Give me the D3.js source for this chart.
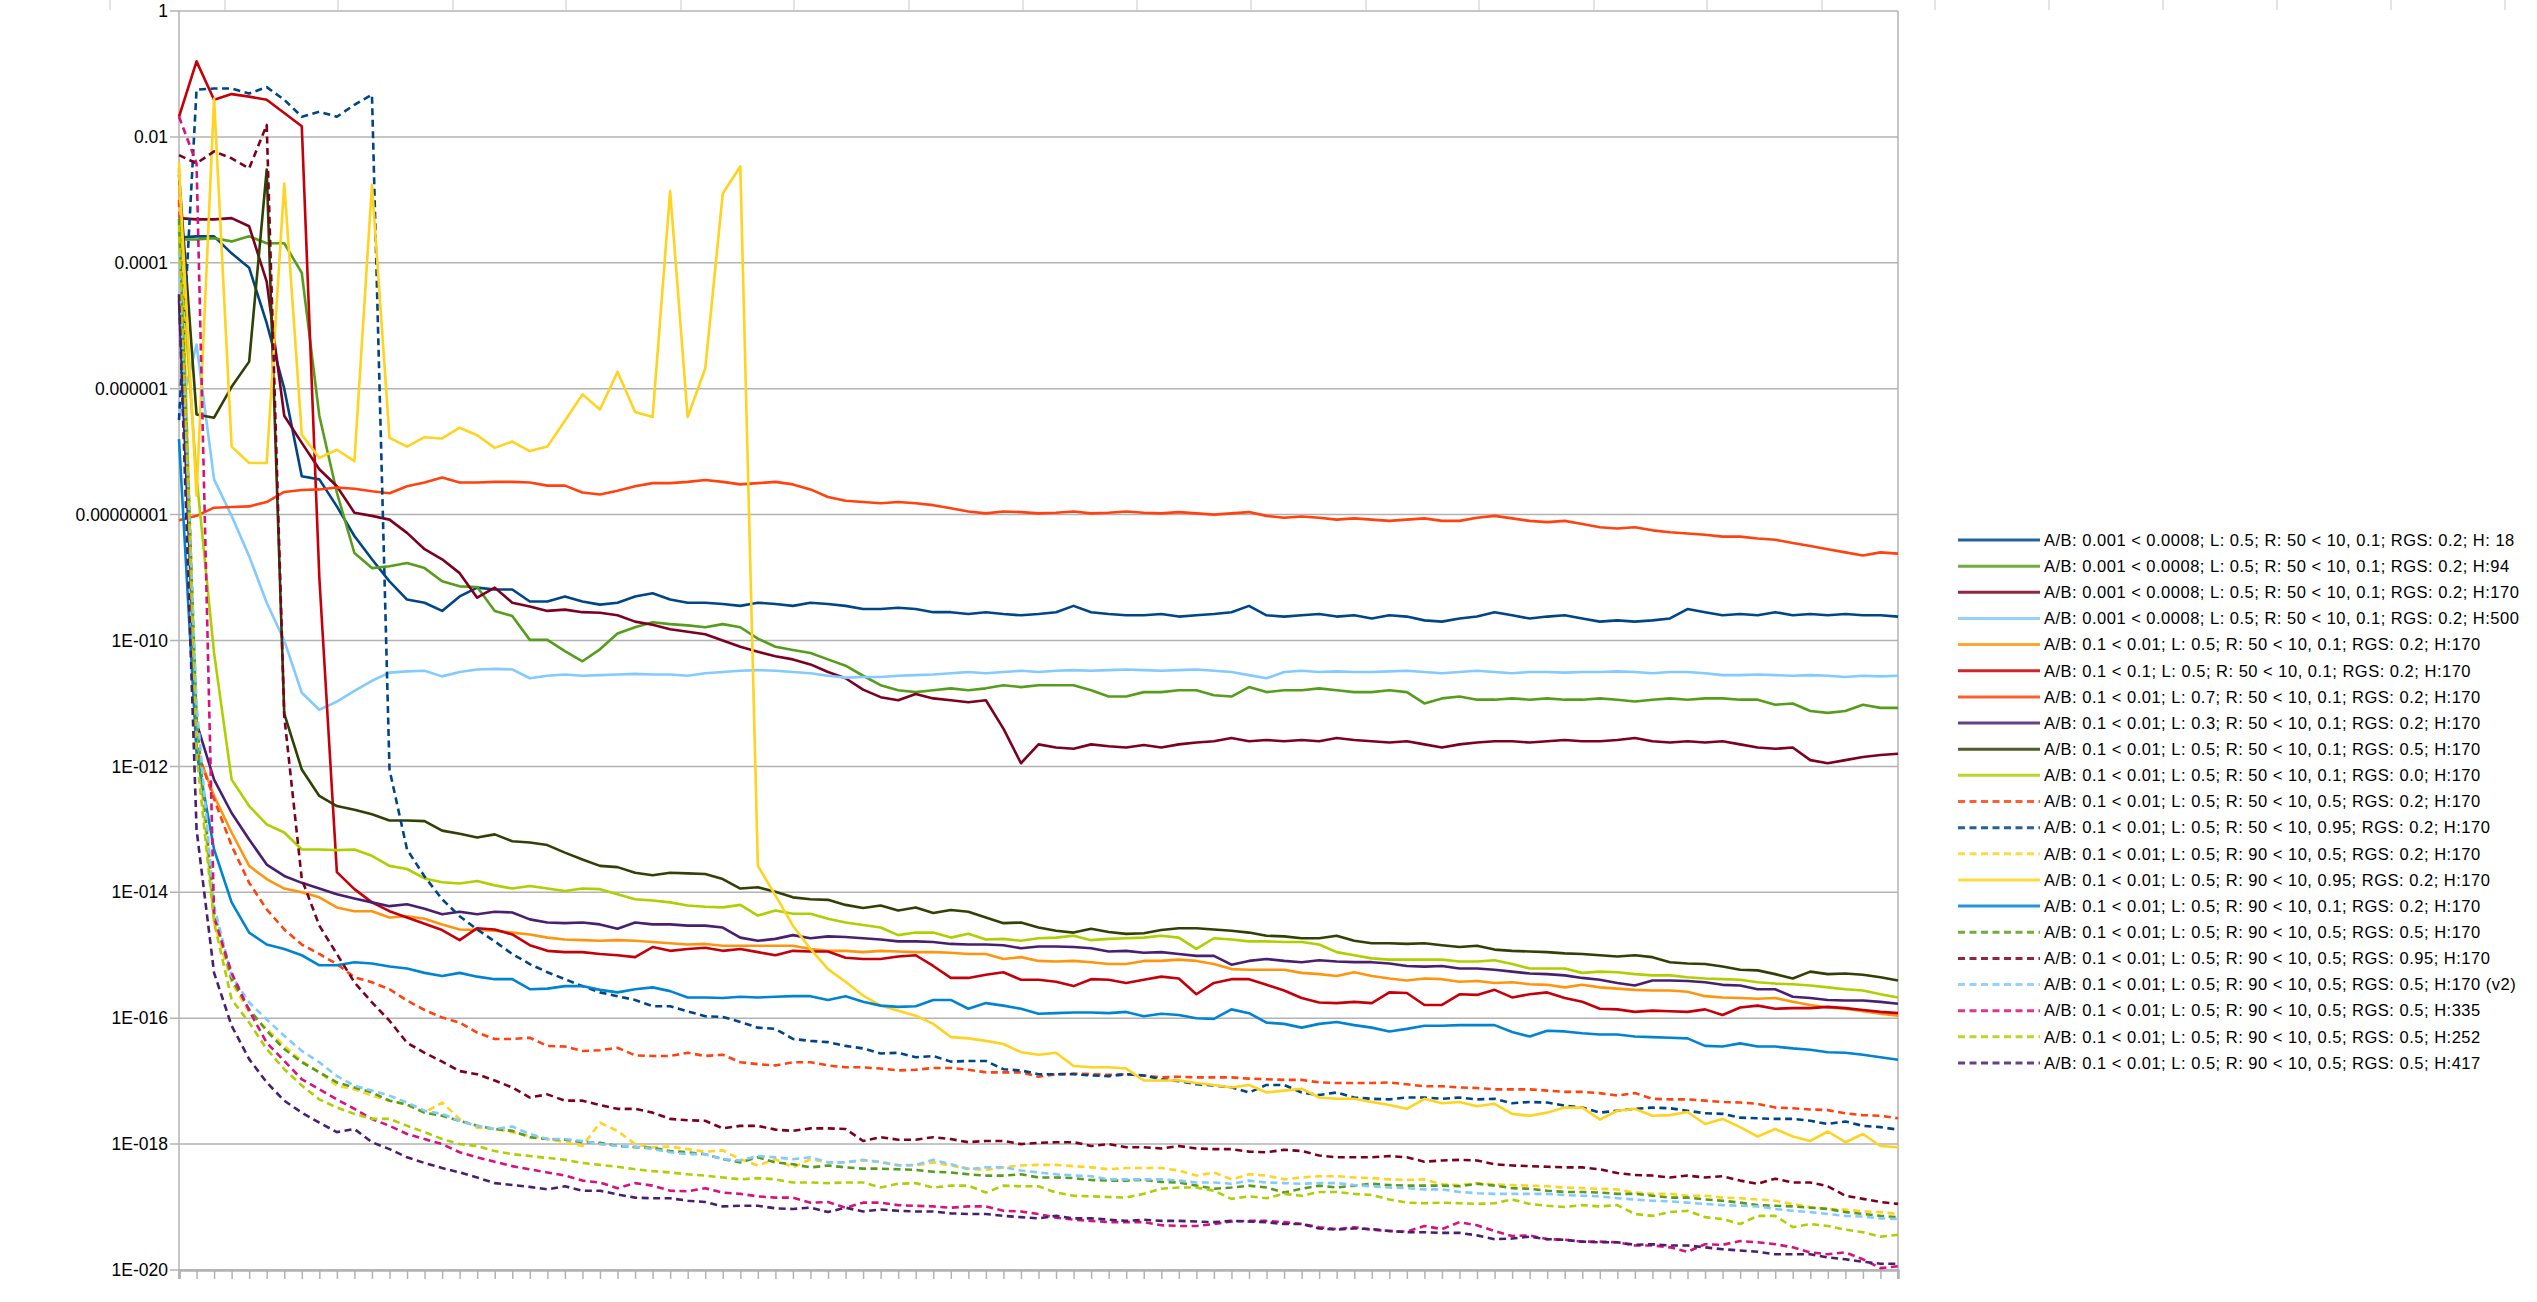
<!DOCTYPE html>
<html>
<head>
<meta charset="utf-8">
<script src="https://cdn.jsdelivr.net/npm/d3@7"></script>
<style>
  body { margin: 0; background: #fff; }
  svg { display: block; font-family: "Liberation Sans", Arial, sans-serif; }
</style>
</head>
<body>
<svg id="chart" width="2537" height="1302"></svg>
<script>
// log10 of the residual at each step (99 steps per run)
const s01 = [-3.6,-3.58,-3.58,-3.85,-4.08,-4.96,-6.0,-7.39,-7.44,-7.87,-8.34,-8.71,-9.06,-9.35,-9.4,-9.53,-9.3,-9.16,-9.19,-9.19,-9.38,-9.38,-9.3,-9.38,-9.43,
  -9.4,-9.3,-9.25,-9.35,-9.4,-9.4,-9.42,-9.45,-9.4,-9.42,-9.45,-9.4,-9.42,-9.45,-9.5,-9.5,-9.48,-9.5,-9.55,-9.55,-9.58,-9.55,-9.58,-9.6,-9.58,-9.55,-9.45,-9.55,-9.58,-9.6,-9.6,-9.58,-9.62,-9.6,-9.58,-9.55,-9.45,-9.6,-9.62,-9.6,-9.58,-9.62,-9.6,-9.65,-9.6,-9.62,-9.68,-9.7,-9.65,-9.62,-9.55,-9.6,-9.65,-9.62,-9.6,-9.65,-9.7,-9.68,-9.7,-9.68,-9.65,-9.5,-9.55,-9.6,-9.58,-9.6,-9.55,-9.6,-9.58,-9.6,-9.58,-9.6,-9.6,-9.62];
const s02 = [-3.63,-3.63,-3.61,-3.66,-3.58,-3.69,-3.69,-4.16,-6.43,-7.65,-8.61,-8.85,-8.82,-8.77,-8.85,-9.06,-9.14,-9.15,-9.53,-9.61,-9.99,-9.99,-10.17,-10.33,-10.14,
  -9.89,-9.79,-9.71,-9.74,-9.76,-9.79,-9.74,-9.79,-9.97,-10.1,-10.15,-10.2,-10.3,-10.4,-10.56,-10.71,-10.79,-10.82,-10.79,-10.76,-10.79,-10.76,-10.71,-10.74,-10.71,-10.71,-10.71,-10.79,-10.89,-10.89,-10.82,-10.82,-10.79,-10.79,-10.87,-10.89,-10.74,-10.82,-10.79,-10.79,-10.76,-10.79,-10.82,-10.82,-10.79,-10.82,-11.0,-10.92,-10.89,-10.94,-10.94,-10.92,-10.94,-10.92,-10.94,-10.94,-10.92,-10.94,-10.97,-10.94,-10.92,-10.94,-10.92,-10.92,-10.94,-10.94,-11.02,-11.0,-11.12,-11.15,-11.12,-11.02,-11.07,-11.07];
const s03 = [-3.29,-3.31,-3.31,-3.29,-3.42,-4.3,-6.43,-6.86,-7.28,-7.55,-7.97,-8.02,-8.08,-8.29,-8.55,-8.71,-8.93,-9.32,-9.16,-9.4,-9.46,-9.53,-9.51,-9.55,-9.56,
  -9.6,-9.7,-9.75,-9.82,-9.86,-9.9,-10.0,-10.1,-10.18,-10.25,-10.3,-10.38,-10.5,-10.6,-10.78,-10.9,-10.95,-10.85,-10.92,-10.95,-10.98,-10.95,-11.4,-11.95,-11.65,-11.7,-11.72,-11.65,-11.68,-11.7,-11.66,-11.7,-11.65,-11.62,-11.6,-11.55,-11.6,-11.58,-11.6,-11.58,-11.6,-11.55,-11.58,-11.6,-11.62,-11.6,-11.65,-11.7,-11.65,-11.62,-11.6,-11.6,-11.62,-11.6,-11.58,-11.6,-11.6,-11.58,-11.55,-11.6,-11.62,-11.6,-11.62,-11.6,-11.65,-11.7,-11.72,-11.7,-11.9,-11.95,-11.9,-11.85,-11.82,-11.8];
const s04 = [-6.43,-5.3,-7.44,-8.02,-8.66,-9.4,-10.0,-10.83,-11.1,-10.97,-10.8,-10.64,-10.51,-10.49,-10.48,-10.57,-10.5,-10.46,-10.45,-10.46,-10.6,-10.56,-10.54,-10.56,-10.55,-10.54,-10.53,-10.54,-10.54,-10.56,
  -10.52,-10.5,-10.48,-10.47,-10.48,-10.5,-10.52,-10.56,-10.59,-10.58,-10.58,-10.56,-10.55,-10.54,-10.52,-10.5,-10.52,-10.5,-10.48,-10.5,-10.48,-10.47,-10.48,-10.47,-10.46,-10.47,-10.48,-10.47,-10.46,-10.48,-10.5,-10.55,-10.6,-10.5,-10.48,-10.5,-10.49,-10.5,-10.5,-10.49,-10.48,-10.5,-10.52,-10.5,-10.48,-10.5,-10.52,-10.5,-10.5,-10.51,-10.5,-10.5,-10.49,-10.5,-10.52,-10.5,-10.5,-10.52,-10.55,-10.55,-10.54,-10.55,-10.56,-10.55,-10.56,-10.58,-10.56,-10.57,-10.56];
const s05 = [-2.5,-11.73,-12.47,-13.05,-13.58,-13.79,-13.94,-14.0,-14.08,-14.24,-14.3,-14.3,-14.4,-14.38,-14.42,-14.51,-14.59,-14.6,-14.61,-14.64,-14.67,-14.72,-14.75,-14.76,-14.77,-14.76,-14.77,-14.79,-14.81,-14.83,
  -14.82,-14.85,-14.85,-14.85,-14.85,-14.85,-14.9,-14.93,-14.93,-14.95,-14.93,-14.94,-14.95,-14.95,-14.96,-14.98,-14.98,-15.06,-15.03,-15.09,-15.1,-15.09,-15.11,-15.14,-15.14,-15.09,-15.09,-15.07,-15.09,-15.14,-15.22,-15.23,-15.23,-15.23,-15.28,
  -15.3,-15.33,-15.27,-15.33,-15.37,-15.4,-15.37,-15.38,-15.42,-15.41,-15.44,-15.43,-15.46,-15.47,-15.51,-15.47,-15.51,-15.53,-15.55,-15.56,-15.56,-15.58,-15.65,-15.67,-15.68,-15.69,-15.68,-15.74,-15.79,-15.83,-15.85,-15.89,-15.93,-15.96];
const s06 = [-1.68,-0.8,-1.41,-1.32,-1.36,-1.41,-1.62,-1.83,-9.0,-13.68,-13.95,-14.16,-14.3,-14.4,-14.5,-14.6,-14.76,-14.57,-14.59,-14.67,-14.84,-14.93,-14.95,-14.95,-14.98,-15.0,-15.03,-14.87,-14.93,-14.9,
  -14.88,-14.93,-14.9,-14.95,-15.0,-14.93,-14.94,-14.94,-15.04,-15.06,-15.06,-15.02,-15.0,-15.17,-15.36,-15.36,-15.31,-15.27,-15.39,-15.39,-15.42,-15.49,-15.38,-15.39,-15.44,-15.39,-15.34,-15.37,-15.62,-15.44,-15.38,-15.38,-15.47,-15.56,-15.68,
  -15.75,-15.76,-15.74,-15.76,-15.59,-15.6,-15.79,-15.79,-15.62,-15.63,-15.55,-15.67,-15.62,-15.59,-15.68,-15.74,-15.85,-15.86,-15.9,-15.88,-15.89,-15.9,-15.86,-15.95,-15.83,-15.8,-15.85,-15.84,-15.84,-15.82,-15.84,-15.87,-15.9,-15.92];
const s07 = [-8.09,-8.02,-7.89,-7.88,-7.87,-7.8,-7.64,-7.61,-7.6,-7.57,-7.59,-7.63,-7.66,-7.55,-7.49,-7.41,-7.49,-7.49,-7.48,-7.48,-7.49,-7.54,-7.54,-7.65,-7.68,
  -7.62,-7.55,-7.5,-7.5,-7.48,-7.45,-7.48,-7.52,-7.5,-7.48,-7.52,-7.6,-7.72,-7.78,-7.8,-7.82,-7.8,-7.82,-7.85,-7.9,-7.95,-7.98,-7.95,-7.96,-7.98,-7.97,-7.95,-7.98,-7.97,-7.95,-7.97,-7.98,-7.96,-7.98,-8.0,-7.98,-7.96,-8.02,-8.05,-8.03,-8.05,-8.08,-8.06,-8.08,-8.1,-8.08,-8.06,-8.1,-8.1,-8.05,-8.02,-8.06,-8.1,-8.12,-8.1,-8.15,-8.2,-8.22,-8.2,-8.25,-8.28,-8.3,-8.32,-8.35,-8.35,-8.38,-8.4,-8.45,-8.5,-8.55,-8.6,-8.65,-8.6,-8.62];
const s08 = [-4.6,-11.31,-12.21,-12.74,-13.16,-13.56,-13.74,-13.85,-13.94,-14.03,-14.1,-14.16,-14.22,-14.19,-14.26,-14.35,-14.31,-14.35,-14.31,-14.32,-14.43,-14.48,-14.49,-14.48,-14.51,-14.58,-14.48,-14.51,-14.51,-14.53,
  -14.53,-14.56,-14.72,-14.77,-14.74,-14.68,-14.73,-14.7,-14.71,-14.73,-14.75,-14.78,-14.78,-14.79,-14.82,-14.83,-14.83,-14.84,-14.89,-14.86,-14.86,-14.87,-14.89,-14.94,-14.93,-14.96,-14.95,-14.98,-15.01,-15.01,-15.15,-15.09,-15.06,-15.09,-15.11,
  -15.08,-15.1,-15.11,-15.11,-15.13,-15.17,-15.18,-15.17,-15.21,-15.21,-15.23,-15.26,-15.29,-15.3,-15.32,-15.36,-15.39,-15.44,-15.48,-15.4,-15.4,-15.41,-15.43,-15.47,-15.48,-15.54,-15.54,-15.66,-15.68,-15.71,-15.72,-15.72,-15.74,-15.77];
const s09 = [-2.6,-6.41,-6.46,-5.97,-5.57,-2.52,-11.16,-12.05,-12.47,-12.63,-12.69,-12.76,-12.86,-12.86,-12.87,-13.02,-13.07,-13.13,-13.08,-13.19,-13.21,-13.25,-13.37,-13.48,-13.58,-13.6,-13.69,-13.73,-13.69,-13.7,
  -13.71,-13.79,-13.94,-13.92,-13.99,-14.08,-14.11,-14.12,-14.2,-14.25,-14.21,-14.29,-14.24,-14.33,-14.28,-14.31,-14.4,-14.49,-14.48,-14.56,-14.61,-14.64,-14.58,-14.63,-14.66,-14.65,-14.6,-14.57,-14.57,-14.59,-14.61,-14.64,-14.69,-14.7,-14.73,
  -14.73,-14.69,-14.77,-14.81,-14.81,-14.82,-14.81,-14.84,-14.87,-14.85,-14.91,-14.93,-14.94,-14.95,-14.97,-14.98,-15.0,-15.02,-15.0,-15.03,-15.11,-15.13,-15.14,-15.18,-15.23,-15.24,-15.3,-15.37,-15.26,-15.3,-15.29,-15.31,-15.35,-15.4];
const s10 = [-3.5,-7.4,-10.2,-12.21,-12.63,-12.92,-13.05,-13.32,-13.32,-13.33,-13.32,-13.42,-13.58,-13.63,-13.78,-13.84,-13.86,-13.82,-13.89,-13.94,-13.9,-13.94,-13.98,-13.94,-13.95,-14.03,-14.11,-14.13,-14.16,-14.21,
  -14.23,-14.24,-14.2,-14.37,-14.29,-14.34,-14.34,-14.42,-14.48,-14.52,-14.56,-14.68,-14.64,-14.64,-14.72,-14.66,-14.75,-14.74,-14.77,-14.73,-14.72,-14.69,-14.76,-14.74,-14.73,-14.72,-14.69,-14.72,-14.9,-14.73,-14.75,-14.78,-14.78,-14.79,-14.79,
  -14.83,-14.95,-15.0,-15.05,-15.07,-15.07,-15.07,-15.07,-15.1,-15.1,-15.08,-15.14,-15.21,-15.21,-15.21,-15.28,-15.26,-15.27,-15.3,-15.32,-15.32,-15.35,-15.37,-15.38,-15.39,-15.43,-15.45,-15.46,-15.48,-15.51,-15.54,-15.56,-15.62,-15.67];
const s11 = [-3.0,-11.73,-12.52,-13.26,-13.85,-14.27,-14.59,-14.83,-14.98,-15.14,-15.35,-15.43,-15.54,-15.72,-15.87,-15.99,-16.07,-16.23,-16.33,-16.33,-16.31,-16.44,-16.45,-16.52,-16.51,-16.47,-16.59,-16.6,-16.6,-16.55,
  -16.6,-16.58,-16.7,-16.73,-16.75,-16.7,-16.7,-16.75,-16.78,-16.78,-16.8,-16.83,-16.82,-16.79,-16.79,-16.82,-16.86,-16.86,-16.86,-16.93,-16.89,-16.88,-16.89,-16.9,-16.89,-16.91,-16.94,-16.93,-16.94,-16.94,-16.94,-16.96,-16.97,-16.98,-16.98,
  -17.02,-17.03,-17.03,-17.03,-17.02,-17.05,-17.08,-17.08,-17.1,-17.11,-17.13,-17.13,-17.13,-17.15,-17.17,-17.17,-17.19,-17.23,-17.19,-17.28,-17.29,-17.29,-17.31,-17.33,-17.34,-17.36,-17.42,-17.43,-17.45,-17.46,-17.51,-17.54,-17.55,-17.59];
const s12 = [-6.5,-1.25,-1.23,-1.23,-1.31,-1.21,-1.41,-1.68,-1.6,-1.68,-1.49,-1.33,-12.05,-13.32,-13.75,-14.11,-14.38,-14.59,-14.78,-14.98,-15.14,-15.27,-15.38,-15.49,-15.59,-15.65,-15.71,-15.81,-15.81,-15.89,
  -15.97,-15.98,-16.06,-16.15,-16.17,-16.33,-16.36,-16.38,-16.44,-16.48,-16.56,-16.55,-16.62,-16.6,-16.69,-16.68,-16.68,-16.81,-16.83,-16.89,-16.89,-16.89,-16.91,-16.92,-16.89,-16.91,-16.97,-17.0,-17.05,-17.07,-17.1,-17.18,-17.06,-17.06,-17.18,
  -17.22,-17.18,-17.26,-17.28,-17.29,-17.26,-17.26,-17.28,-17.26,-17.29,-17.28,-17.35,-17.33,-17.34,-17.39,-17.42,-17.5,-17.47,-17.44,-17.42,-17.43,-17.47,-17.51,-17.52,-17.58,-17.59,-17.6,-17.6,-17.63,-17.68,-17.64,-17.71,-17.73,-17.77];
const s13 = [-2.4,-11.5,-14.48,-15.43,-15.91,-16.17,-16.44,-16.68,-16.86,-17.07,-17.13,-17.23,-17.31,-17.38,-17.5,-17.34,-17.6,-17.74,-17.76,-17.81,-17.87,-17.92,-17.97,-18.03,-17.66,-17.79,-18.0,-18.05,-18.04,-18.08,
  -18.12,-18.1,-18.24,-18.34,-18.24,-18.37,-18.24,-18.29,-18.29,-18.26,-18.28,-18.33,-18.34,-18.29,-18.34,-18.39,-18.41,-18.37,-18.34,-18.33,-18.33,-18.35,-18.37,-18.4,-18.38,-18.38,-18.38,-18.42,-18.5,-18.45,-18.56,-18.48,-18.5,-18.56,-18.53,
  -18.51,-18.51,-18.53,-18.54,-18.56,-18.57,-18.56,-18.64,-18.65,-18.62,-18.64,-18.65,-18.66,-18.67,-18.69,-18.7,-18.71,-18.72,-18.77,-18.79,-18.79,-18.82,-18.82,-18.85,-18.86,-18.88,-18.9,-18.95,-19.0,-19.03,-19.04,-19.07,-19.08,-19.11];
const s14 = [-2.5,-7.7,-1.39,-6.92,-7.18,-7.18,-2.74,-6.73,-7.1,-6.97,-7.15,-2.76,-6.78,-6.92,-6.77,-6.79,-6.62,-6.74,-6.94,-6.84,-6.99,-6.92,-6.51,-6.09,-6.33,-5.73,-6.37,-6.45,-2.86,-6.45,-5.68,-2.9,-2.47,-13.58,
  -14.05,-14.53,-14.9,-15.22,-15.42,-15.64,-15.8,-15.88,-15.96,-16.09,-16.3,-16.32,-16.36,-16.41,-16.54,-16.58,-16.55,-16.76,-16.78,-16.78,-16.8,-16.99,-16.99,-16.99,-17.03,-17.06,-17.1,-17.06,-17.18,-17.15,-17.12,
  -17.26,-17.28,-17.28,-17.33,-17.38,-17.44,-17.28,-17.35,-17.33,-17.4,-17.36,-17.52,-17.55,-17.5,-17.42,-17.42,-17.61,-17.47,-17.44,-17.55,-17.54,-17.49,-17.68,-17.6,-17.73,-17.88,-17.76,-17.88,-17.95,-17.8,-17.97,-17.84,-18.03,-18.05];
const s15 = [-6.8,-11.78,-13.32,-14.16,-14.64,-14.83,-14.9,-15.0,-15.16,-15.16,-15.11,-15.13,-15.18,-15.21,-15.28,-15.33,-15.28,-15.34,-15.38,-15.38,-15.54,-15.53,-15.49,-15.49,-15.55,-15.59,-15.54,-15.51,-15.57,-15.67,
  -15.67,-15.68,-15.66,-15.67,-15.66,-15.65,-15.65,-15.71,-15.65,-15.74,-15.8,-15.82,-15.81,-15.71,-15.71,-15.85,-15.76,-15.8,-15.85,-15.93,-15.92,-15.91,-15.91,-15.92,-15.9,-15.97,-15.93,-15.95,-16.0,-16.01,-15.86,-15.92,-16.07,-16.09,-16.15,
  -16.09,-16.06,-16.11,-16.15,-16.21,-16.17,-16.12,-16.12,-16.11,-16.11,-16.11,-16.22,-16.29,-16.2,-16.21,-16.24,-16.26,-16.26,-16.29,-16.3,-16.31,-16.32,-16.44,-16.45,-16.4,-16.45,-16.45,-16.48,-16.5,-16.54,-16.55,-16.58,-16.62,-16.66];
const s16 = [-3.3,-11.2,-14.32,-15.38,-15.86,-16.2,-16.49,-16.7,-16.86,-17.02,-17.1,-17.18,-17.31,-17.37,-17.5,-17.55,-17.63,-17.71,-17.76,-17.79,-17.89,-17.92,-17.93,-17.97,-17.98,-18.03,-18.05,-18.06,-18.11,-18.13,
  -18.16,-18.24,-18.29,-18.21,-18.29,-18.32,-18.37,-18.34,-18.37,-18.39,-18.39,-18.4,-18.41,-18.44,-18.45,-18.48,-18.5,-18.5,-18.48,-18.53,-18.53,-18.54,-18.57,-18.58,-18.58,-18.57,-18.6,-18.61,-18.66,-18.71,-18.69,-18.66,-18.69,-18.77,-18.71,
  -18.66,-18.69,-18.66,-18.63,-18.65,-18.66,-18.66,-18.66,-18.67,-18.63,-18.66,-18.7,-18.71,-18.74,-18.76,-18.76,-18.77,-18.79,-18.79,-18.82,-18.85,-18.85,-18.88,-18.9,-18.93,-18.97,-18.98,-18.99,-19.01,-19.03,-19.08,-19.11,-19.14,-19.16];
const s17 = [-2.29,-2.42,-2.23,-2.34,-2.5,-1.81,-11.2,-13.79,-14.53,-14.98,-15.43,-15.75,-16.04,-16.39,-16.55,-16.69,-16.84,-16.89,-16.99,-17.1,-17.26,-17.21,-17.31,-17.31,-17.38,-17.44,-17.44,-17.5,-17.6,-17.62,
  -17.63,-17.75,-17.71,-17.71,-17.77,-17.79,-17.75,-17.75,-17.76,-17.95,-17.89,-17.93,-17.93,-17.89,-17.92,-17.97,-17.95,-17.95,-18.0,-17.98,-17.97,-17.97,-18.03,-18.0,-18.05,-18.05,-18.07,-18.03,-18.07,-18.08,-18.08,-18.12,-18.13,-18.09,-18.11,
  -18.18,-18.21,-18.21,-18.21,-18.19,-18.21,-18.28,-18.26,-18.25,-18.26,-18.32,-18.34,-18.35,-18.36,-18.37,-18.37,-18.4,-18.46,-18.49,-18.5,-18.53,-18.5,-18.53,-18.51,-18.58,-18.63,-18.55,-18.61,-18.61,-18.67,-18.82,-18.87,-18.92,-18.95];
const s18 = [-3.8,-11.0,-14.22,-15.33,-15.75,-16.02,-16.28,-16.52,-16.7,-16.92,-17.07,-17.15,-17.23,-17.34,-17.47,-17.52,-17.63,-17.71,-17.76,-17.72,-17.84,-17.92,-17.92,-17.95,-18.0,-18.03,-18.04,-18.08,-18.13,-18.16,
  -18.16,-18.24,-18.26,-18.19,-18.21,-18.24,-18.21,-18.29,-18.29,-18.25,-18.29,-18.34,-18.33,-18.25,-18.32,-18.4,-18.37,-18.37,-18.42,-18.45,-18.48,-18.5,-18.51,-18.56,-18.56,-18.56,-18.56,-18.58,-18.61,-18.61,-18.63,-18.58,-18.61,-18.62,-18.63,
  -18.62,-18.62,-18.65,-18.67,-18.69,-18.7,-18.72,-18.72,-18.76,-18.78,-18.79,-18.79,-18.79,-18.79,-18.81,-18.82,-18.83,-18.86,-18.88,-18.9,-18.91,-18.93,-18.95,-18.97,-18.98,-18.99,-19.03,-19.06,-19.08,-19.11,-19.14,-19.15,-19.18,-19.19];
const s19 = [-1.68,-2.42,-14.4,-15.28,-15.88,-16.39,-16.68,-16.97,-17.13,-17.29,-17.44,-17.6,-17.71,-17.84,-17.92,-18.0,-18.13,-18.21,-18.28,-18.35,-18.4,-18.45,-18.5,-18.58,-18.61,-18.7,-18.62,-18.66,-18.74,-18.75,
  -18.7,-18.77,-18.79,-18.83,-18.85,-18.85,-18.93,-18.92,-19.01,-18.93,-18.93,-18.97,-18.98,-18.99,-19.01,-18.99,-18.99,-19.06,-19.07,-19.11,-19.17,-19.2,-19.22,-19.24,-19.24,-19.24,-19.29,-19.3,-19.3,-19.27,-19.23,-19.22,-19.22,-19.24,-19.27,
  -19.32,-19.35,-19.32,-19.36,-19.38,-19.39,-19.3,-19.35,-19.24,-19.29,-19.38,-19.46,-19.45,-19.51,-19.52,-19.55,-19.55,-19.56,-19.61,-19.61,-19.64,-19.71,-19.59,-19.6,-19.54,-19.56,-19.59,-19.64,-19.72,-19.75,-19.72,-19.83,-19.97,-19.94];
const s20 = [-3.4,-11.8,-14.48,-15.7,-16.07,-16.49,-16.81,-17.07,-17.29,-17.42,-17.52,-17.6,-17.6,-17.71,-17.81,-17.92,-18.0,-18.03,-18.11,-18.16,-18.19,-18.22,-18.25,-18.3,-18.33,-18.36,-18.4,-18.43,-18.45,-18.48,
  -18.5,-18.53,-18.56,-18.54,-18.56,-18.61,-18.61,-18.62,-18.61,-18.61,-18.69,-18.63,-18.62,-18.69,-18.66,-18.66,-18.77,-18.66,-18.67,-18.67,-18.77,-18.82,-18.83,-18.84,-18.85,-18.79,-18.71,-18.69,-18.69,-18.74,-18.87,-18.83,-18.86,-18.79,-18.82,
  -18.76,-18.76,-18.79,-18.81,-18.88,-18.93,-18.94,-18.93,-18.94,-18.95,-18.94,-18.88,-18.95,-18.98,-19.0,-18.97,-18.99,-18.97,-19.11,-19.14,-19.08,-19.06,-19.16,-19.19,-19.27,-19.14,-19.14,-19.32,-19.27,-19.3,-19.36,-19.4,-19.47,-19.44];
const s21 = [-4.5,-13.0,-15.28,-16.12,-16.65,-17.02,-17.31,-17.5,-17.66,-17.81,-17.76,-17.97,-18.08,-18.21,-18.3,-18.38,-18.45,-18.53,-18.62,-18.65,-18.68,-18.72,-18.67,-18.74,-18.74,-18.8,-18.85,-18.86,-18.86,-18.9,
  -18.92,-18.99,-18.98,-18.98,-19.02,-19.03,-19.01,-19.08,-19.01,-19.07,-19.04,-19.06,-19.07,-19.07,-19.1,-19.11,-19.11,-19.14,-19.16,-19.18,-19.14,-19.18,-19.18,-19.2,-19.22,-19.2,-19.22,-19.22,-19.23,-19.24,-19.22,-19.23,-19.24,-19.27,-19.27,
  -19.34,-19.36,-19.34,-19.35,-19.38,-19.4,-19.4,-19.41,-19.41,-19.45,-19.51,-19.5,-19.47,-19.51,-19.52,-19.55,-19.56,-19.56,-19.6,-19.59,-19.61,-19.61,-19.64,-19.67,-19.69,-19.71,-19.75,-19.75,-19.75,-19.8,-19.83,-19.87,-19.9,-19.9];

const seriesLabels = [
  "A/B: 0.001 < 0.0008; L: 0.5; R: 50 < 10, 0.1; RGS: 0.2; H: 18",
  "A/B: 0.001 < 0.0008; L: 0.5; R: 50 < 10, 0.1; RGS: 0.2; H:94",
  "A/B: 0.001 < 0.0008; L: 0.5; R: 50 < 10, 0.1; RGS: 0.2; H:170",
  "A/B: 0.001 < 0.0008; L: 0.5; R: 50 < 10, 0.1; RGS: 0.2; H:500",
  "A/B: 0.1 < 0.01; L: 0.5; R: 50 < 10, 0.1; RGS: 0.2; H:170",
  "A/B: 0.1 < 0.1; L: 0.5; R: 50 < 10, 0.1; RGS: 0.2; H:170",
  "A/B: 0.1 < 0.01; L: 0.7; R: 50 < 10, 0.1; RGS: 0.2; H:170",
  "A/B: 0.1 < 0.01; L: 0.3; R: 50 < 10, 0.1; RGS: 0.2; H:170",
  "A/B: 0.1 < 0.01; L: 0.5; R: 50 < 10, 0.1; RGS: 0.5; H:170",
  "A/B: 0.1 < 0.01; L: 0.5; R: 50 < 10, 0.1; RGS: 0.0; H:170",
  "A/B: 0.1 < 0.01; L: 0.5; R: 50 < 10, 0.5; RGS: 0.2; H:170",
  "A/B: 0.1 < 0.01; L: 0.5; R: 50 < 10, 0.95; RGS: 0.2; H:170",
  "A/B: 0.1 < 0.01; L: 0.5; R: 90 < 10, 0.5; RGS: 0.2; H:170",
  "A/B: 0.1 < 0.01; L: 0.5; R: 90 < 10, 0.95; RGS: 0.2; H:170",
  "A/B: 0.1 < 0.01; L: 0.5; R: 90 < 10, 0.1; RGS: 0.2; H:170",
  "A/B: 0.1 < 0.01; L: 0.5; R: 90 < 10, 0.5; RGS: 0.5; H:170",
  "A/B: 0.1 < 0.01; L: 0.5; R: 90 < 10, 0.5; RGS: 0.95; H:170",
  "A/B: 0.1 < 0.01; L: 0.5; R: 90 < 10, 0.5; RGS: 0.5; H:170 (v2)",
  "A/B: 0.1 < 0.01; L: 0.5; R: 90 < 10, 0.5; RGS: 0.5; H:335",
  "A/B: 0.1 < 0.01; L: 0.5; R: 90 < 10, 0.5; RGS: 0.5; H:252",
  "A/B: 0.1 < 0.01; L: 0.5; R: 90 < 10, 0.5; RGS: 0.5; H:417"
];
const seriesData = [s01, s02, s03, s04, s05, s06, s07, s08, s09, s10, s11, s12, s13, s14, s15, s16, s17, s18, s19, s20, s21];
const seriesColors = ["#004586","#579d1c","#7e0021","#83caff","#ff950e","#c5000b","#ff420e","#4b1f6f","#314004","#aecf00",
  "#ff420e","#004586","#ffd320","#ffd320","#0084d1","#579d1c","#7e0021","#83caff","#d8127c","#aecf00","#4b1f6f"];
const seriesDashed = [false,false,false,false,false,false,false,false,false,false,
  true,true,true,false,false,true,true,true,true,true,true];

const yTickValues = [1, 1e-2, 1e-4, 1e-6, 1e-8, 1e-10, 1e-12, 1e-14, 1e-16, 1e-18, 1e-20];
const yTickLabels = ["1","0.01","0.0001","0.000001","0.00000001","1E-010","1E-012","1E-014","1E-016","1E-018","1E-020"];

const steps = d3.range(s01.length);

const svg = d3.select("#chart");
const plot = { left: 179, right: 1898, top: 11, bottom: 1270 };

// bits of spreadsheet column grid showing above the chart
const sheetCols = [110,225,338,453,566,681,794,909,1023,1137,1251,1366,1479,1594,1707,1822,1935,2049,2163,2277,2391,2505];
svg.append("g").selectAll("line").data(sheetCols).enter().append("line")
    .attr("x1", d => d).attr("x2", d => d).attr("y1", 0).attr("y2", 10)
    .attr("stroke", "#c8c8c8").attr("stroke-width", 1);

const x = d3.scalePoint().domain(steps).range([plot.left, plot.right]);
const y = d3.scaleLog().domain([1e-20, 1]).range([plot.bottom, plot.top]);

// gridlines
svg.append("g").selectAll("line").data(yTickValues).enter().append("line")
    .attr("x1", plot.left - 9).attr("x2", plot.right)
    .attr("y1", d => y(d)).attr("y2", d => y(d))
    .attr("stroke", "#b3b3b3").attr("stroke-width", 1.5);

// axes frame
svg.append("line").attr("x1", plot.left).attr("x2", plot.left).attr("y1", plot.top).attr("y2", plot.bottom + 9)
    .attr("stroke", "#b3b3b3").attr("stroke-width", 1.5);
svg.append("line").attr("x1", plot.right).attr("x2", plot.right).attr("y1", plot.top).attr("y2", plot.bottom + 9)
    .attr("stroke", "#b3b3b3").attr("stroke-width", 1.5);

const xAxis = d3.axisBottom(x).tickSize(9).tickFormat("");
svg.append("g").attr("transform", `translate(0,${plot.bottom})`).call(xAxis)
    .call(g => g.select(".domain").attr("stroke", "#b3b3b3").attr("stroke-width", 2.5))
    .call(g => g.selectAll(".tick line").attr("stroke", "#b3b3b3").attr("stroke-width", 1.5));

const yAxis = d3.axisLeft(y).tickValues(yTickValues).tickSize(0).tickPadding(11)
    .tickFormat((d, i) => yTickLabels[i]);
svg.append("g").attr("transform", `translate(${plot.left},0)`).call(yAxis)
    .call(g => g.select(".domain").remove())
    .call(g => g.selectAll("text").attr("font-size", 17.5).attr("fill", "#000")
        .attr("font-family", "Liberation Sans, Arial, sans-serif"));

// series
const line = d3.line().x((d, i) => x(i)).y(d => y(Math.pow(10, d)));
const lines = svg.append("g");
seriesData.forEach((s, k) => {
    lines.append("path")
        .attr("d", line(s))
        .attr("fill", "none")
        .attr("stroke", seriesColors[k])
        .attr("stroke-width", 2.6)
        .attr("stroke-linejoin", "round")
        .attr("stroke-dasharray", seriesDashed[k] ? "7,4.5" : null);
});

// legend
const legend = svg.append("g").attr("transform", "translate(1958,540)");
const rows = legend.selectAll("g").data(seriesLabels).enter().append("g")
    .attr("transform", (d, i) => `translate(0,${i * 26.15})`);
rows.append("line")
    .attr("x1", 0).attr("x2", 82).attr("y1", 0).attr("y2", 0)
    .attr("stroke", (d, i) => seriesColors[i])
    .attr("stroke-width", 3)
    .attr("stroke-opacity", 0.85)
    .attr("stroke-dasharray", (d, i) => seriesDashed[i] ? "7,4.5" : null);
rows.append("text")
    .attr("x", 86).attr("y", 0).attr("dy", "0.35em")
    .attr("font-size", 16.5).attr("letter-spacing", 0.5).attr("fill", "#000")
    .text(d => d);
</script>
</body>
</html>
